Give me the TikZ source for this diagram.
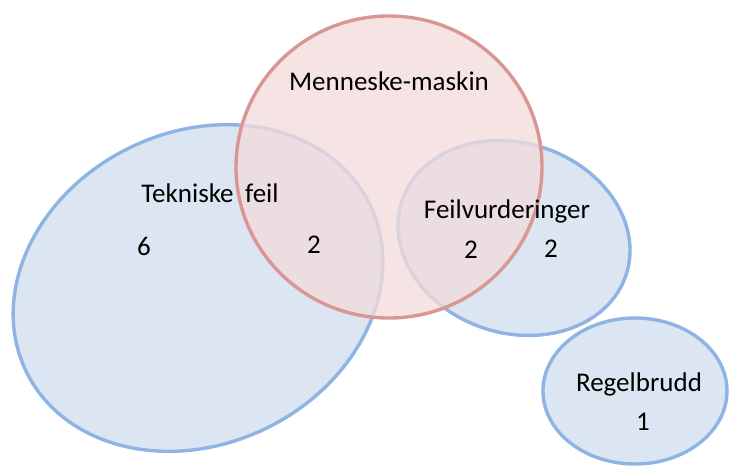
\documentclass[tikz,border=0pt]{standalone}
\usepackage{fontspec}
\setmainfont{Carlito}
\begin{document}
\begin{tikzpicture}[x=1pt,y=-1pt,
  setblue/.style={draw=setblueline,fill=setbluefill,line width=3.4pt},
  setred/.style={draw=setredline,fill=setredfill,fill opacity=0.77,line width=3.4pt},
  lbl/.style={font=\fontsize{27}{32}\selectfont,anchor=base,inner sep=0pt,text=black}]
\definecolor{setbluefill}{HTML}{DCE6F2}
\definecolor{setblueline}{HTML}{8DB4E3}
\definecolor{setredfill}{HTML}{F2DCDB}
\definecolor{setredline}{HTML}{DA9694}
\useasboundingbox (0,0) rectangle (729,466);
\clip (0,0) rectangle (729,466);
\fill[white] (0,0) rectangle (729,466);
% the three blue sets
\draw[setblue,rotate around={26:(198,288)}] (198,288) ellipse [x radius=191, y radius=156];
\draw[setblue,rotate around={-18:(514,238)}] (514,238) ellipse [x radius=118, y radius=95];
\draw[setblue] (635,391) ellipse [x radius=92, y radius=73];
% the red set laid over them
\draw[setred] (389,167) ellipse [x radius=153, y radius=151];
% labels and counts
\node[lbl] (mm) at (389,90) {Menneske-maskin};
\node[lbl] (tf) at (210,202) {Tekniske\hspace{0.2em} feil};
\node[lbl] (tfn) at (144,255) {6};
\node[lbl] (tfmm) at (314,253) {2};
\node[lbl] (fv) at (507,218) {Feilvurderinger};
\node[lbl] (fvmm) at (471,258) {2};
\node[lbl] (fvn) at (551,257) {2};
\node[lbl] (rb) at (639,391) {Regelbrudd};
\node[lbl] (rbn) at (643,430) {1};
\end{tikzpicture}
\end{document}
